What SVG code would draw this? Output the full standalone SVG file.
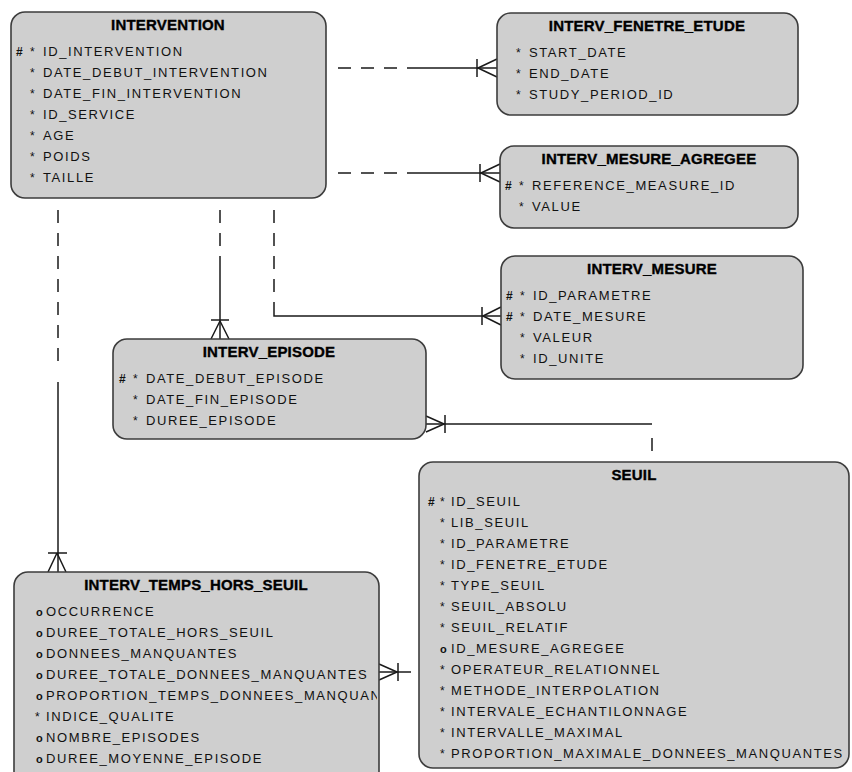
<svg xmlns="http://www.w3.org/2000/svg" width="852" height="772" viewBox="0 0 852 772">
  <style>
    .box { fill: #cfcfcf; stroke: #3c3c3c; stroke-width: 1.6; }
    .title { font-family: "Liberation Sans", Arial, sans-serif; font-size: 15px; font-weight: bold; fill: #000; stroke: #000; stroke-width: 0.35; text-anchor: middle; letter-spacing: 0.2px; }
    .attr { font-family: "Liberation Sans", Arial, sans-serif; font-size: 13px; fill: #111; letter-spacing: 1.6px; }
    .mk { font-family: "Liberation Sans", Arial, sans-serif; font-size: 12px; font-weight: bold; fill: #111; }
    .o { font-family: "Liberation Sans", Arial, sans-serif; font-size: 11px; font-weight: bold; fill: #111; }
    .ast { font-family: "Liberation Sans", Arial, sans-serif; font-size: 12px; fill: #111; }
    .solid { fill: none; stroke: #1a1a1a; stroke-width: 1.5; }
    .dash { fill: none; stroke: #1a1a1a; stroke-width: 1.5; stroke-dasharray: 13 10; }
  </style>
  <defs>
    <clipPath id="clipTemps">
      <rect x="14" y="572" width="363" height="220"/>
    </clipPath>
  </defs>

  <rect width="852" height="772" fill="#ffffff"/>

  <!-- relationship lines -->
  <g id="connectors">
    <!-- INTERVENTION to INTERV_FENETRE_ETUDE -->
    <path class="dash" d="M338,68 H411"/>
    <path class="solid" d="M411,68 H497"/>
    <path class="solid" d="M477,59 V77 M478,68 L497,59 M478,68 L497,77"/>

    <!-- INTERVENTION to INTERV_MESURE_AGREGEE -->
    <path class="dash" d="M338,173 H411"/>
    <path class="solid" d="M411,173 H500"/>
    <path class="solid" d="M480,164 V182 M481,173 L500,164 M481,173 L500,182"/>

    <!-- INTERVENTION to INTERV_MESURE -->
    <path class="dash" d="M274,210 V304"/>
    <path class="solid" d="M274,304 V316 H501"/>
    <path class="solid" d="M482,307 V325 M483,316 L501,307 M483,316 L501,325"/>

    <!-- INTERVENTION to INTERV_EPISODE -->
    <path class="dash" d="M220,210 V258"/>
    <path class="solid" d="M220,258 V339"/>
    <path class="solid" d="M211,320 H229 M220,321 L211,339 M220,321 L229,339"/>

    <!-- INTERVENTION to INTERV_TEMPS_HORS_SEUIL -->
    <path class="dash" d="M58,210 V370"/>
    <path class="solid" d="M58,382 V572"/>
    <path class="solid" d="M48,553 H67 M57,553 L48,572 M57,553 L66,572"/>

    <!-- INTERV_EPISODE to SEUIL -->
    <path class="solid" d="M426,424 H652"/>
    <path class="solid" d="M652,438 V451"/>
    <path class="solid" d="M445,415 V433 M444,424 L426,416 M444,424 L426,432"/>

    <!-- INTERV_TEMPS_HORS_SEUIL to SEUIL -->
    <path class="solid" d="M379,672 H411"/>
    <path class="solid" d="M398,663 V681 M397,672 L379,664 M397,672 L379,680"/>
  </g>

  <!-- INTERVENTION -->
  <g id="intervention">
    <rect class="box" x="11" y="12" width="315" height="186" rx="14"/>
    <text class="title" x="168" y="29.5">INTERVENTION</text>
    <text class="mk" x="16" y="55.5">#</text>
    <text class="ast" x="30" y="55.5">*</text><text class="attr" x="43" y="55.5">ID_INTERVENTION</text>
    <text class="ast" x="30" y="76.5">*</text><text class="attr" x="43" y="76.5">DATE_DEBUT_INTERVENTION</text>
    <text class="ast" x="30" y="97.5">*</text><text class="attr" x="43" y="97.5">DATE_FIN_INTERVENTION</text>
    <text class="ast" x="30" y="118.5">*</text><text class="attr" x="43" y="118.5">ID_SERVICE</text>
    <text class="ast" x="30" y="139.5">*</text><text class="attr" x="43" y="139.5">AGE</text>
    <text class="ast" x="30" y="160.5">*</text><text class="attr" x="43" y="160.5">POIDS</text>
    <text class="ast" x="30" y="181.5">*</text><text class="attr" x="43" y="181.5">TAILLE</text>
  </g>

  <!-- INTERV_FENETRE_ETUDE -->
  <g id="interv_fenetre_etude">
    <rect class="box" x="497" y="13" width="301" height="102" rx="14"/>
    <text class="title" x="647" y="30.5">INTERV_FENETRE_ETUDE</text>
    <text class="ast" x="516" y="56.5">*</text><text class="attr" x="529" y="56.5">START_DATE</text>
    <text class="ast" x="516" y="77.5">*</text><text class="attr" x="529" y="77.5">END_DATE</text>
    <text class="ast" x="516" y="98.5">*</text><text class="attr" x="529" y="98.5">STUDY_PERIOD_ID</text>
  </g>

  <!-- INTERV_MESURE_AGREGEE -->
  <g id="interv_mesure_agregee">
    <rect class="box" x="500" y="146" width="298" height="82" rx="14"/>
    <text class="title" x="649" y="163.5">INTERV_MESURE_AGREGEE</text>
    <text class="mk" x="505" y="189.5">#</text>
    <text class="ast" x="519" y="189.5">*</text><text class="attr" x="532" y="189.5">REFERENCE_MEASURE_ID</text>
    <text class="ast" x="519" y="210.5">*</text><text class="attr" x="532" y="210.5">VALUE</text>
  </g>

  <!-- INTERV_MESURE -->
  <g id="interv_mesure">
    <rect class="box" x="501" y="256" width="302" height="123" rx="14"/>
    <text class="title" x="652" y="273.5">INTERV_MESURE</text>
    <text class="mk" x="506" y="299.5">#</text>
    <text class="ast" x="520" y="299.5">*</text><text class="attr" x="533" y="299.5">ID_PARAMETRE</text>
    <text class="mk" x="506" y="320.5">#</text>
    <text class="ast" x="520" y="320.5">*</text><text class="attr" x="533" y="320.5">DATE_MESURE</text>
    <text class="ast" x="520" y="341.5">*</text><text class="attr" x="533" y="341.5">VALEUR</text>
    <text class="ast" x="520" y="362.5">*</text><text class="attr" x="533" y="362.5">ID_UNITE</text>
  </g>

  <!-- INTERV_EPISODE -->
  <g id="interv_episode">
    <rect class="box" x="113" y="339" width="313" height="100" rx="14"/>
    <text class="title" x="269" y="356.5">INTERV_EPISODE</text>
    <text class="mk" x="119" y="382.5">#</text>
    <text class="ast" x="133" y="382.5">*</text><text class="attr" x="146" y="382.5">DATE_DEBUT_EPISODE</text>
    <text class="ast" x="133" y="403.5">*</text><text class="attr" x="146" y="403.5">DATE_FIN_EPISODE</text>
    <text class="ast" x="133" y="424.5">*</text><text class="attr" x="146" y="424.5">DUREE_EPISODE</text>
  </g>

  <!-- SEUIL -->
  <g id="seuil">
    <rect class="box" x="419" y="462" width="430" height="306" rx="14"/>
    <text class="title" x="634" y="479.5">SEUIL</text>
    <text class="mk" x="428" y="505.5">#</text>
    <text class="ast" x="440" y="505.5">*</text><text class="attr" x="451" y="505.5">ID_SEUIL</text>
    <text class="ast" x="440" y="526.5">*</text><text class="attr" x="451" y="526.5">LIB_SEUIL</text>
    <text class="ast" x="440" y="547.5">*</text><text class="attr" x="451" y="547.5">ID_PARAMETRE</text>
    <text class="ast" x="440" y="568.5">*</text><text class="attr" x="451" y="568.5">ID_FENETRE_ETUDE</text>
    <text class="ast" x="440" y="589.5">*</text><text class="attr" x="451" y="589.5">TYPE_SEUIL</text>
    <text class="ast" x="440" y="610.5">*</text><text class="attr" x="451" y="610.5">SEUIL_ABSOLU</text>
    <text class="ast" x="440" y="631.5">*</text><text class="attr" x="451" y="631.5">SEUIL_RELATIF</text>
    <text class="o" x="440" y="652.5">o</text><text class="attr" x="451" y="652.5">ID_MESURE_AGREGEE</text>
    <text class="ast" x="440" y="673.5">*</text><text class="attr" x="451" y="673.5">OPERATEUR_RELATIONNEL</text>
    <text class="ast" x="440" y="694.5">*</text><text class="attr" x="451" y="694.5">METHODE_INTERPOLATION</text>
    <text class="ast" x="440" y="715.5">*</text><text class="attr" x="451" y="715.5">INTERVALE_ECHANTILONNAGE</text>
    <text class="ast" x="440" y="736.5">*</text><text class="attr" x="451" y="736.5">INTERVALLE_MAXIMAL</text>
    <text class="ast" x="440" y="757.5">*</text><text class="attr" x="451" y="757.5">PROPORTION_MAXIMALE_DONNEES_MANQUANTES</text>
  </g>

  <!-- INTERV_TEMPS_HORS_SEUIL -->
  <g id="interv_temps_hors_seuil">
    <rect class="box" x="14" y="572" width="365" height="220" rx="14"/>
    <text class="title" x="196" y="589.5">INTERV_TEMPS_HORS_SEUIL</text>
    <g clip-path="url(#clipTemps)">
      <text class="o" x="36" y="615.5">o</text><text class="attr" x="46" y="615.5">OCCURRENCE</text>
      <text class="o" x="36" y="636.5">o</text><text class="attr" x="46" y="636.5">DUREE_TOTALE_HORS_SEUIL</text>
      <text class="o" x="36" y="657.5">o</text><text class="attr" x="46" y="657.5">DONNEES_MANQUANTES</text>
      <text class="o" x="36" y="678.5">o</text><text class="attr" x="46" y="678.5">DUREE_TOTALE_DONNEES_MANQUANTES</text>
      <text class="o" x="36" y="699.5">o</text><text class="attr" x="46" y="699.5">PROPORTION_TEMPS_DONNEES_MANQUANTES</text>
      <text class="ast" x="35" y="720.5">*</text><text class="attr" x="46" y="720.5">INDICE_QUALITE</text>
      <text class="o" x="36" y="741.5">o</text><text class="attr" x="46" y="741.5">NOMBRE_EPISODES</text>
      <text class="o" x="36" y="762.5">o</text><text class="attr" x="46" y="762.5">DUREE_MOYENNE_EPISODE</text>
    </g>
  </g>
</svg>
